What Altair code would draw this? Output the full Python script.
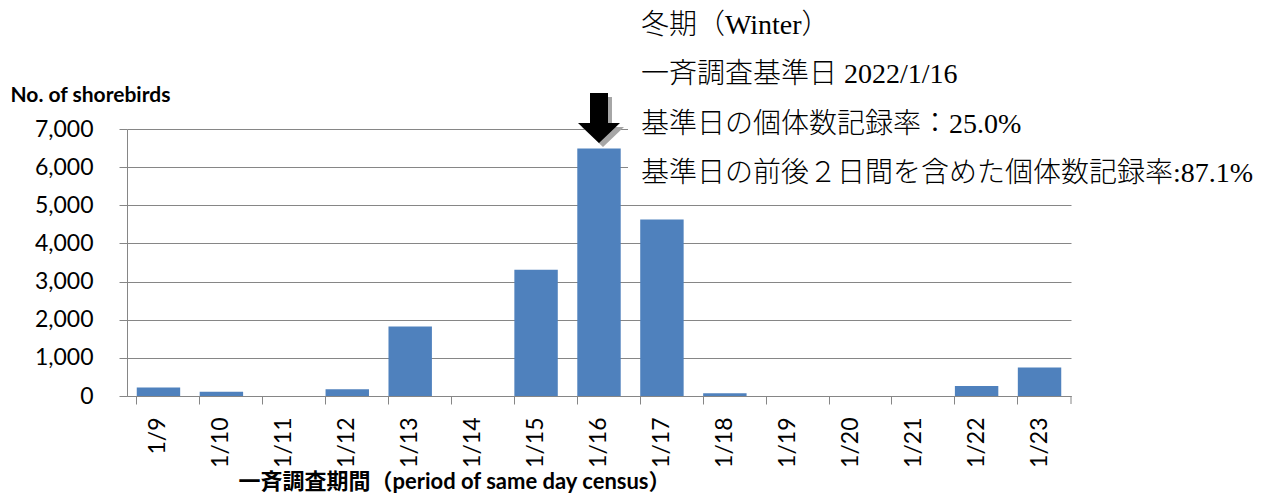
import altair as alt
import pandas as pd

dates = ["1/9", "1/10", "1/11", "1/12", "1/13", "1/14", "1/15", "1/16",
         "1/17", "1/18", "1/19", "1/20", "1/21", "1/22", "1/23"]
counts = [220, 110, 0, 180, 1820, 0, 3310, 6490, 4630, 70, 0, 0, 0, 260, 750]

note_lines = [
    "冬期（Winter）",
    "一斉調査基準日 2022/1/16",
    "基準日の個体数記録率：25.0%",
    "基準日の前後２日間を含めた個体数記録率:87.1%",
]
base_date = "1/16"

y_title = "No. of shorebirds"
x_title = "一斉調査期間（period of same day census）"

W, H = 944, 267
GRAY = "#868686"
df = pd.DataFrame({"date": dates, "count": counts})

x_enc = alt.X(
    "date:N", sort=dates, title=x_title,
    scale=alt.Scale(paddingInner=0.31, paddingOuter=0.155),
    axis=alt.Axis(
        labelAngle=-90, labelFont="Lato", labelFontSize=23, labelColor="black",
        labelPadding=13, tickSize=8, tickColor=GRAY, domainColor=GRAY,
        bandPosition=0,
        titleFont="Lato, 'Noto Sans CJK JP'", titleFontSize=22, titleFontWeight="bold",
        titleColor="black", titleX=327, titleY=85, titleAlign="center",
        titleBaseline="middle",
    ),
)
y_enc = alt.Y(
    "count:Q", title=y_title,
    scale=alt.Scale(domain=[0, 7000], nice=False),
    axis=alt.Axis(
        values=list(range(0, 7001, 1000)), format=",d",
        labelFont="Lato", labelFontSize=23, labelColor="black", labelPadding=26,
        tickSize=8, tickColor=GRAY, domainColor=GRAY, gridColor=GRAY,
        titleFont="Lato", titleFontSize=21, titleFontWeight="bold", titleColor="black",
        titleAngle=0, titleAlign="left", titleBaseline="middle",
        titleX=-117, titleY=-34,
    ),
)

bars = alt.Chart(df).mark_bar(color="#4F81BD").encode(x=x_enc, y=y_enc)

dummy = pd.DataFrame({"k": [0]})
end_tick = alt.Chart(dummy).mark_rule(color=GRAY, strokeWidth=1).encode(
    x=alt.value(W), y=alt.value(H), y2=alt.value(H + 8)
)
cover = alt.Chart(dummy).mark_rect(color="white").encode(
    x=alt.value(501), x2=alt.value(W + 5), y=alt.value(-129), y2=alt.value(66)
)

arrow_path = "M-0.36,-1 L0.36,-1 L0.36,0.2 L0.84,0.2 L0,1 L-0.84,0.2 L-0.36,0.2 Z"
adf = pd.DataFrame({"date": [base_date]})
shadow = alt.Chart(adf).mark_point(
    shape=arrow_path, size=2500, filled=True, fill="#A6A6A6", strokeWidth=0,
    opacity=1, xOffset=4, yOffset=4,
).encode(x=alt.X("date:N", sort=dates), y=alt.value(-11))
arrow = alt.Chart(adf).mark_point(
    shape=arrow_path, size=2500, filled=True, fill="black", strokeWidth=0, opacity=1,
).encode(x=alt.X("date:N", sort=dates), y=alt.value(-11))

line_y = [-103, -54, -4, 45]
texts = []
for i, line in enumerate(note_lines):
    texts.append(
        alt.Chart(pd.DataFrame({"t": [line]})).mark_text(
            align="left", baseline="middle", fontSize=28,
            font="'Liberation Serif', 'Noto Sans CJK JP'", fontWeight=300, color="black",
        ).encode(x=alt.value(514), y=alt.value(line_y[i]), text="t:N")
    )

chart = alt.layer(bars, end_tick, cover, shadow, arrow, *texts).properties(
    width=W, height=H,
    autosize=alt.AutoSizeParams(type="none"),
    padding={"left": 119, "top": 121, "right": 201, "bottom": 99},
).configure_view(stroke=None).configure_axis(gridWidth=1, domainWidth=1, tickWidth=1)

chart.save("out.html", embed_options={"renderer": "svg", "actions": False})
